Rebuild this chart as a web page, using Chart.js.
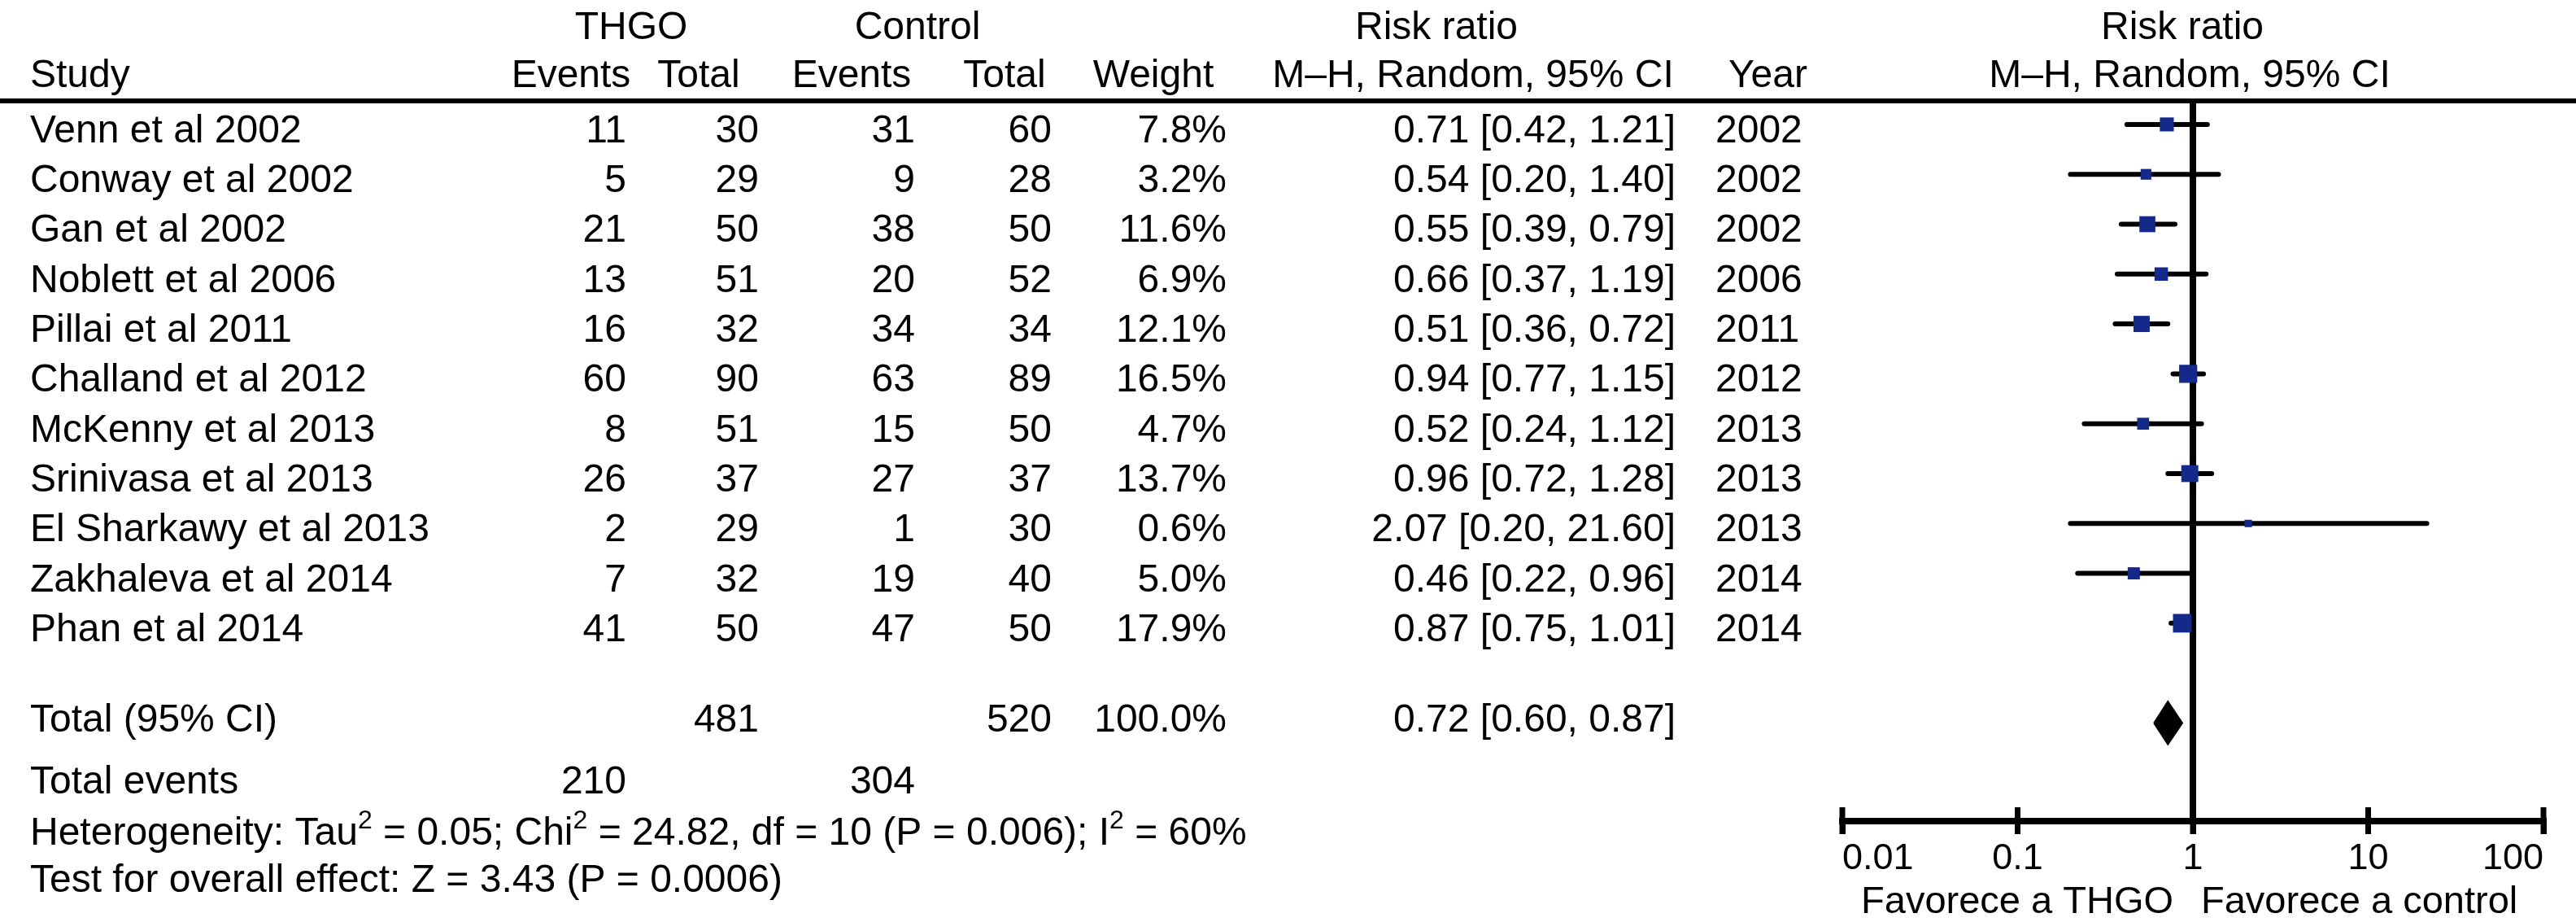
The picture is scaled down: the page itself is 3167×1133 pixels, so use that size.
<!DOCTYPE html>
<html><head><meta charset="utf-8">
<script src="https://cdn.jsdelivr.net/npm/chart.js@4.4.1/dist/chart.umd.min.js"></script>
<style>
html,body{margin:0;padding:0;background:#fff;overflow:hidden}
#wrap{position:relative;width:3167px;height:1133px}
</style></head>
<body><div id="wrap"><canvas id="c"></canvas></div>
<script>
// ---------- data ----------
const studies = ["Venn et al 2002","Conway et al 2002","Gan et al 2002","Noblett et al 2006","Pillai et al 2011","Challand et al 2012","McKenny et al 2013","Srinivasa et al 2013","El Sharkawy et al 2013","Zakhaleva et al 2014","Phan et al 2014"];
const thgoEvents = [11,5,21,13,16,60,8,26,2,7,41];
const thgoTotal  = [30,29,50,51,32,90,51,37,29,32,50];
const ctrlEvents = [31,9,38,20,34,63,15,27,1,19,47];
const ctrlTotal  = [60,28,50,52,34,89,50,37,30,40,50];
const weights    = [7.8,3.2,11.6,6.9,12.1,16.5,4.7,13.7,0.6,5.0,17.9];
const riskRatio  = [0.71,0.54,0.55,0.66,0.51,0.94,0.52,0.96,2.07,0.46,0.87];
const ciLow      = [0.42,0.20,0.39,0.37,0.36,0.77,0.24,0.72,0.20,0.22,0.75];
const ciHigh     = [1.21,1.40,0.79,1.19,0.72,1.15,1.12,1.28,21.60,0.96,1.01];
const years      = [2002,2002,2002,2006,2011,2012,2013,2013,2013,2014,2014];
const totalThgo = 481, totalCtrl = 520, totalWeight = 100.0;
const totalRR = 0.72, totalLow = 0.60, totalHigh = 0.87;
const totalEventsThgo = 210, totalEventsCtrl = 304;
const tau2 = "0.05", chi2 = "24.82", dfHet = "10", pHet = "0.006", i2 = "60";
const zOverall = "3.43", pOverall = "0.0006";
const tickValues = [0.01, 0.1, 1, 10, 100];
const tickLabels = ["0.01", "0.1", "1", "10", "100"];

// ---------- layout / style ----------
const FONT = '"Liberation Sans", Arial, Helvetica, sans-serif';
const ROW_TOTAL = 12;
const Y_MIN = -0.488, Y_MAX = 13.967;
const DIAMOND_HALF = 0.43;
const MARKER = '#14298a';

const f2 = v => v.toFixed(2);
const ciText = (r, l, h) => f2(r) + ' [' + f2(l) + ', ' + f2(h) + ']';

const datasets = [];
// study markers (on top)
datasets.push({
  data: studies.map((s, i) => ({x: riskRatio[i], y: i})),
  pointStyle: 'rect',
  pointRadius: weights.map(w => (6 + 4 * Math.sqrt(w)) / Math.SQRT2),
  backgroundColor: MARKER, borderColor: MARKER, borderWidth: 0,
  showLine: false, clip: false
});
// pooled diamond
datasets.push({
  data: [
    {x: totalLow, y: ROW_TOTAL}, {x: totalRR, y: ROW_TOTAL - DIAMOND_HALF},
    {x: totalHigh, y: ROW_TOTAL}, {x: totalRR, y: ROW_TOTAL + DIAMOND_HALF},
    {x: totalLow, y: ROW_TOTAL}
  ],
  showLine: true, fill: 'shape', backgroundColor: '#000', borderColor: '#000',
  borderWidth: 2, pointRadius: 0, tension: 0, clip: false
});
// confidence intervals
studies.forEach((s, i) => datasets.push({
  data: [{x: ciLow[i], y: i}, {x: ciHigh[i], y: i}],
  showLine: true, borderColor: '#000', borderWidth: 6, borderCapStyle: 'round',
  pointRadius: 0, fill: false, clip: false
}));
// line of no effect
datasets.push({
  data: [{x: 1, y: Y_MIN}, {x: 1, y: Y_MAX}],
  showLine: true, borderColor: '#000', borderWidth: 8, pointRadius: 0, fill: false, clip: false
});

const tablePlugin = {
  id: 'forestTable',
  afterDraw(chart) {
    const ctx = chart.ctx, xs = chart.scales.x, ys = chart.scales.y;
    ctx.save();
    ctx.fillStyle = '#000';
    const t = (s, x, y, al, size) => {
      ctx.font = (size || 48) + 'px ' + FONT;
      ctx.textAlign = al || 'left';
      ctx.textBaseline = 'alphabetic';
      ctx.fillText(s, x, y);
    };
    // header row 1
    t('THGO', 776, 48, 'center');
    t('Control', 1128, 48, 'center');
    t('Risk ratio', 1766, 48, 'center');
    t('Risk ratio', 2683, 48, 'center');
    // header row 2
    t('Study', 37, 107);
    t('Events', 702, 107, 'center');
    t('Total', 859, 107, 'center');
    t('Events', 1047, 107, 'center');
    t('Total', 1235, 107, 'center');
    t('Weight', 1418, 107, 'center');
    t('M\u2013H, Random, 95% CI', 1811, 107, 'center');
    t('Year', 2125, 107);
    t('M\u2013H, Random, 95% CI', 2692, 107, 'center');
    // header rule
    ctx.fillRect(0, 121, chart.width, 6);
    // study rows
    studies.forEach((s, i) => {
      const y = ys.getPixelForValue(i) + 22;
      t(s, 37, y);
      t(String(thgoEvents[i]), 770, y, 'right');
      t(String(thgoTotal[i]), 933, y, 'right');
      t(String(ctrlEvents[i]), 1125, y, 'right');
      t(String(ctrlTotal[i]), 1293, y, 'right');
      t(weights[i].toFixed(1) + '%', 1508, y, 'right');
      t(ciText(riskRatio[i], ciLow[i], ciHigh[i]), 2060, y, 'right');
      t(String(years[i]), 2109, y);
    });
    // total row
    const yT = ys.getPixelForValue(ROW_TOTAL) + 11;
    t('Total (95% CI)', 37, yT);
    t(String(totalThgo), 933, yT, 'right');
    t(String(totalCtrl), 1293, yT, 'right');
    t(totalWeight.toFixed(1) + '%', 1508, yT, 'right');
    t(ciText(totalRR, totalLow, totalHigh), 2060, yT, 'right');
    // total events
    t('Total events', 37, 975);
    t(String(totalEventsThgo), 770, 975, 'right');
    t(String(totalEventsCtrl), 1125, 975, 'right');
    // heterogeneity with superscripts
    const parts = [
      ['Heterogeneity: Tau', 0], ['2', 1], [' = ' + tau2 + '; Chi', 0], ['2', 1],
      [' = ' + chi2 + ', df = ' + dfHet + ' (P = ' + pHet + '); I', 0], ['2', 1], [' = ' + i2 + '%', 0]
    ];
    let hx = 37;
    parts.forEach(([s, sup]) => {
      const size = sup ? 32 : 48;
      ctx.font = size + 'px ' + FONT;
      ctx.textAlign = 'left';
      ctx.fillText(s, hx, sup ? 1018 : 1038);
      hx += ctx.measureText(s).width;
    });
    t('Test for overall effect: Z = ' + zOverall + ' (P = ' + pOverall + ')', 37, 1096);
    // upward tick stubs on the axis
    tickValues.forEach(v => {
      const px = xs.getPixelForValue(v);
      ctx.fillRect(px - 3.5, xs.top - 17, 7, 33);
    });
    // favour labels
    const x1 = xs.getPixelForValue(1);
    t('Favorece a THGO', x1 - 24, 1122, 'right', 47);
    t('Favorece a control', x1 + 10, 1122, 'left', 47);
    ctx.restore();
  }
};

new Chart(document.getElementById('c'), {
  type: 'scatter',
  data: {datasets},
  options: {
    responsive: true, maintainAspectRatio: false, animation: false,
    layout: {padding: {left: 2265, right: 40, top: 123, bottom: 46}},
    plugins: {legend: {display: false}, tooltip: {enabled: false}},
    scales: {
      x: {
        type: 'logarithmic', min: 0.01, max: 100, position: 'bottom',
        afterBuildTicks: s => { s.ticks = tickValues.map(v => ({value: v})); },
        ticks: {
          callback: (v, i) => tickLabels[i], align: 'inner', padding: 4,
          color: '#000', font: {family: FONT, size: 45}, maxRotation: 0, autoSkip: false
        },
        grid: {display: true, drawOnChartArea: false, drawTicks: true, tickLength: 16,
               tickWidth: 7, tickColor: '#000', color: '#000', lineWidth: 7},
        border: {display: true, color: '#000', width: 8}
      },
      y: {type: 'linear', min: Y_MIN, max: Y_MAX, reverse: true, display: false}
    }
  },
  plugins: [tablePlugin]
});
</script>
</body></html>
